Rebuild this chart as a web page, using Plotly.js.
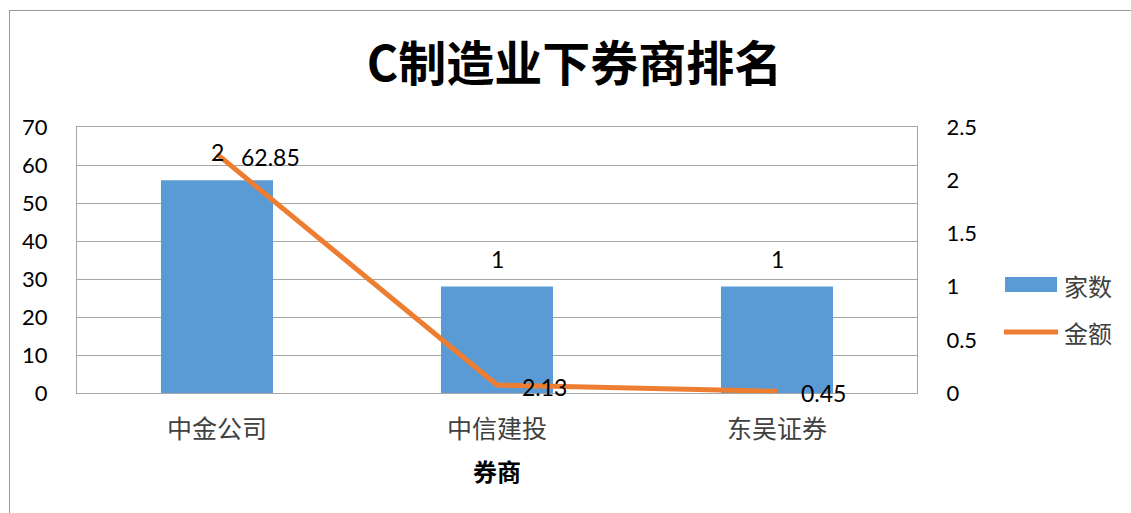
<!DOCTYPE html>
<html>
<head>
<meta charset="utf-8">
<script src="https://cdn.plot.ly/plotly-3.0.1.min.js"></script>
<style>
  html, body { margin: 0; padding: 0; background: #fff; }
  #wrap { position: relative; width: 1131px; height: 513px; }
  #chart { position: absolute; left: 0; top: 0; width: 1131px; height: 513px; }
  #frame { position: absolute; left: 9px; top: 10px; width: 1140px; height: 520px;
           border: 1px solid #9a9a9a; pointer-events: none; box-sizing: border-box; }
</style>
</head>
<body>
<div id="wrap"><div id="chart"></div><div id="frame"></div></div>
<script>
const categories = ['中金公司', '中信建投', '东吴证券'];
const counts = [2, 1, 1];            // 家数 (right axis)
const amounts = [62.85, 2.13, 0.45]; // 金额 (left axis)
const countName = '家数';
const amountName = '金额';
const lineLabelShift = [[22, -3], [23, -2], [22, -2]];

const numFont = 'Lato, "Noto Sans", sans-serif';
const cjkFont = '"Noto Sans CJK SC", sans-serif';

const traces = [
  {
    type: 'bar', x: categories, y: counts, name: countName, yaxis: 'y',
    marker: { color: '#5B9BD5' }, hoverinfo: 'skip', showlegend: false
  },
  {
    type: 'scatter', mode: 'lines', x: categories, y: amounts, name: amountName, yaxis: 'y2',
    line: { color: '#ED7D31', width: 5 }, hoverinfo: 'skip', showlegend: false
  }
];

const annotations = [];
categories.forEach((c, i) => {
  annotations.push({
    x: c, y: counts[i], xref: 'x', yref: 'y', text: String(counts[i]),
    showarrow: false, yshift: 28, font: { family: numFont, size: 23, color: '#000' }
  });
  annotations.push({
    x: c, y: amounts[i], xref: 'x', yref: 'y2', text: String(amounts[i]),
    showarrow: false, xanchor: 'left', xshift: lineLabelShift[i][0], yshift: lineLabelShift[i][1],
    font: { family: numFont, size: 23, color: '#000' }
  });
});
// legend text
annotations.push({ x: 1.1726, y: 0.406, xref: 'paper', yref: 'paper', text: countName, showarrow: false,
  xanchor: 'left', yanchor: 'middle', font: { family: cjkFont, size: 24, color: '#404040' } });
annotations.push({ x: 1.1726, y: 0.2293, xref: 'paper', yref: 'paper', text: amountName, showarrow: false,
  xanchor: 'left', yanchor: 'middle', font: { family: cjkFont, size: 24, color: '#404040' } });

const shapes = [
  { type: 'rect', xref: 'paper', yref: 'paper', x0: 1.1048, x1: 1.1667, y0: 0.3797, y1: 0.4361,
    fillcolor: '#5B9BD5', line: { width: 0 } },
  { type: 'line', xref: 'paper', yref: 'paper', x0: 1.1036, x1: 1.1679, y0: 0.2293, y1: 0.2293,
    line: { color: '#ED7D31', width: 5 } }
];

const layout = {
  width: 1131, height: 513,
  margin: { l: 77, r: 214, t: 127, b: 120 },
  paper_bgcolor: 'rgba(0,0,0,0)', plot_bgcolor: '#fff',
  title: { text: '<b>C制造业下券商排名</b>', x: 0.508, xanchor: 'center', y: 0.875, yanchor: 'middle',
           font: { family: cjkFont, size: 48, color: '#000' } },
  bargap: 0.6,
  xaxis: {
    showline: true, mirror: true, linecolor: '#A6A6A6', linewidth: 1,
    tickfont: { family: cjkFont, size: 25, color: '#404040' },
    ticks: '', ticklabelstandoff: 14,
    title: { text: '<b>券商</b>', standoff: 20, font: { family: cjkFont, size: 24, color: '#000' } }
  },
  yaxis: {
    side: 'right', range: [0, 2.5], dtick: 0.5, showgrid: false, zeroline: false,
    showline: true, linecolor: '#A6A6A6', linewidth: 1,
    tickfont: { family: numFont, size: 22, color: '#000' }, ticks: '', ticklabelstandoff: 24
  },
  yaxis2: {
    side: 'left', overlaying: 'y', range: [0, 70], dtick: 10, showgrid: true, gridcolor: '#A6A6A6',
    gridwidth: 1, zeroline: false, showline: true, linecolor: '#A6A6A6', linewidth: 1,
    tickfont: { family: numFont, size: 22, color: '#000' }, ticks: '', ticklabelstandoff: 24
  },
  annotations: annotations,
  shapes: shapes,
  showlegend: false
};

Plotly.newPlot('chart', traces, layout, { displayModeBar: false, staticPlot: true });
</script>
</body>
</html>
